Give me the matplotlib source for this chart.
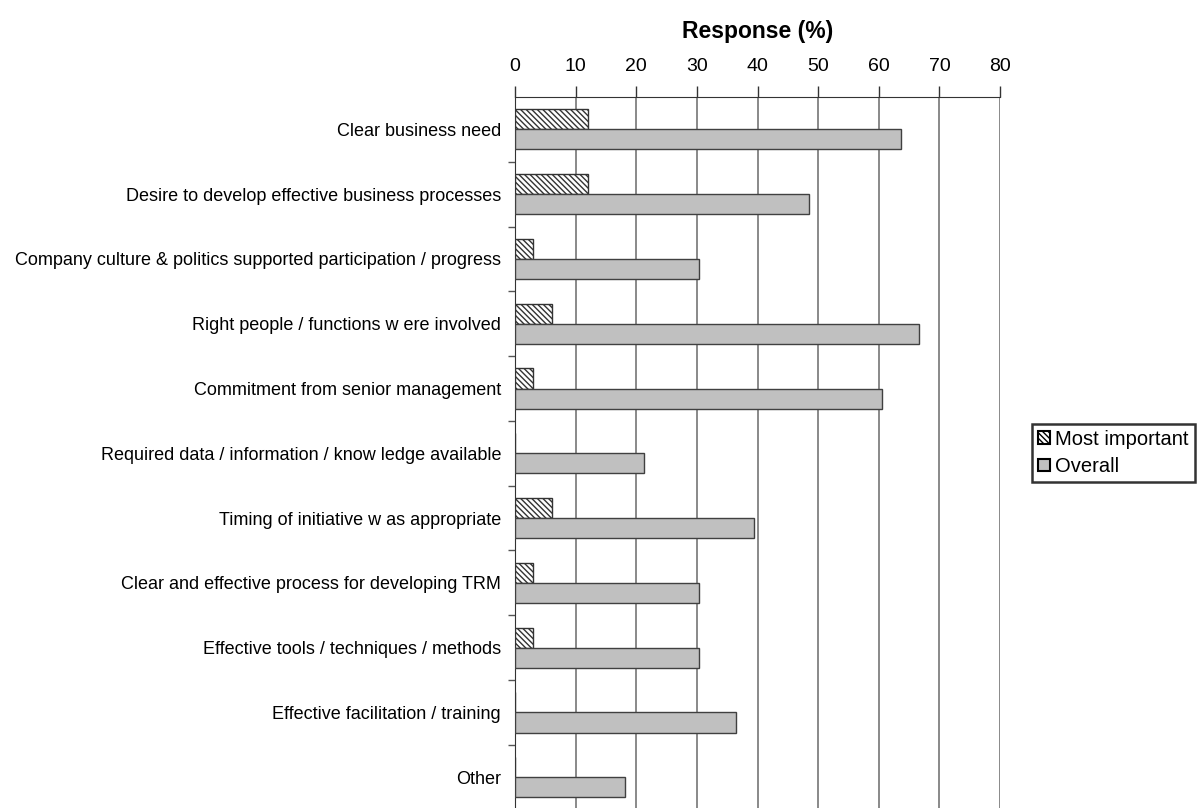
import numpy as np
import matplotlib.pyplot as plt
from matplotlib.patches import Patch

plt.rcParams['font.family'] = ['Liberation Sans', 'DejaVu Sans']
plt.rcParams['hatch.linewidth'] = 1.0

# Survey results (% of respondents)
factors = [
    'Clear business need',
    'Desire to develop effective business processes',
    'Company culture & politics supported participation / progress',
    'Right people / functions w ere involved',
    'Commitment from senior management',
    'Required data / information / know ledge available',
    'Timing of initiative w as appropriate',
    'Clear and effective process for developing TRM',
    'Effective tools / techniques / methods',
    'Effective facilitation / training',
    'Other',
]
most_important = [12.1, 12.1, 3.0, 6.1, 3.0, 0.0, 6.1, 3.0, 3.0, 0.0, 0.0]
overall = [63.6, 48.5, 30.3, 66.7, 60.6, 21.2, 39.4, 30.3, 30.3, 36.4, 18.2]
xticks = [0, 10, 20, 30, 40, 50, 60, 70, 80]

hatch = '\\' * 6

fig = plt.figure(figsize=(12.03, 8.08), dpi=100)
ax = fig.add_axes([515 / 1203, -0.002, 485 / 1203, 0.882])

y = np.arange(len(factors))
h = 0.31
ax.barh(y - h / 2, most_important, height=h, color='white', edgecolor='#333333',
        hatch=hatch, linewidth=1.0, zorder=3)
ax.barh(y + h / 2, overall, height=h, color='#c0c0c0', edgecolor='#404040',
        linewidth=1.0, zorder=3)

ax.set_xlim(0, 80)
ax.set_ylim(len(factors) - 0.5, -0.5)
ax.set_xticks(xticks)
ax.xaxis.tick_top()
ax.xaxis.set_label_position('top')
ax.set_xlabel('Response (%)', fontsize=16.5, fontweight='bold', labelpad=14)
ax.tick_params(axis='x', direction='out', length=8, width=1.0, color='#333333',
               labelsize=14, pad=8)
ax.grid(axis='x', color='#808080', linewidth=1.3, zorder=0)

ax.set_yticks(y)
ax.set_yticklabels(factors, fontsize=13)
ax.tick_params(axis='y', length=0, pad=10)
ax.set_yticks(np.arange(len(factors)) + 0.5, minor=True)
ax.tick_params(axis='y', which='minor', length=5, width=1.0, color='#555555')

for side in ['right', 'bottom']:
    ax.spines[side].set_visible(False)
ax.spines['top'].set_color('#333333')
ax.spines['left'].set_color('#333333')

handles = [
    Patch(facecolor='white', edgecolor='black', hatch=hatch, linewidth=1.5, label='Most important'),
    Patch(facecolor='#c0c0c0', edgecolor='black', linewidth=1.5, label='Overall'),
]
leg = fig.legend(handles=handles, loc='center left', bbox_to_anchor=(1032 / 1203, 1 - 453 / 808),
                 fontsize=14.5, frameon=True, fancybox=False, handlelength=0.6, handleheight=0.6,
                 handletextpad=0.25, borderpad=0.3, labelspacing=0.4, borderaxespad=0)
leg.get_frame().set_edgecolor('black')
leg.get_frame().set_linewidth(1.8)

fig.savefig('out.png', dpi=100)
